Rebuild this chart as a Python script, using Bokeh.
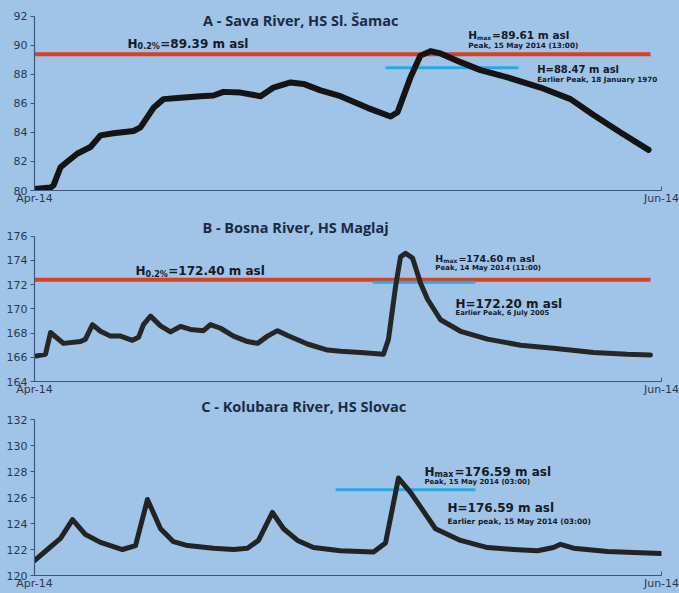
from bokeh.plotting import figure
from bokeh.layouts import column
from bokeh.models import Range1d, FixedTicker, Label
from bokeh.embed import file_html
from bokeh.resources import INLINE

# ---------------- data (x = days since 1 April 2014) ----------------
x_tick_values = [0, 61]
x_tick_labels = ["Apr-14", "Jun-14"]

a_days = [0.0, 1.56, 1.85, 2.53, 3.21, 4.18, 5.45, 6.42, 7.69, 9.63,
          10.31, 11.58, 12.55, 14.20, 16.15, 17.41, 18.39, 20.04, 21.99, 23.25,
          24.91, 26.17, 27.83, 29.77, 32.40, 34.64, 35.32, 36.58, 37.55, 38.53,
          39.50, 41.45, 43.39, 46.02, 49.23, 52.15, 54.39, 57.02, 59.74]
a_levels = [80.1, 80.2, 80.35, 81.6, 82.0, 82.55, 83.0, 83.8, 83.95, 84.1,
            84.35, 85.7, 86.3, 86.4, 86.5, 86.55, 86.8, 86.75, 86.5, 87.1,
            87.45, 87.35, 86.9, 86.5, 85.7, 85.1, 85.4, 87.8, 89.3, 89.61,
            89.45, 88.85, 88.3, 87.8, 87.1, 86.3, 85.2, 84.0, 82.8]
a_yticks = [80, 82, 84, 86, 88, 90, 92]
a_h02 = 89.39
a_h02_span = [0, 59.93]
a_prev = 88.47
a_prev_span = [34.15, 47.09]

b_days = [0.10, 1.07, 1.56, 2.04, 2.82, 4.48, 4.96, 5.64, 6.42, 7.39,
          8.37, 9.53, 10.12, 10.60, 11.29, 12.26, 13.23, 14.20, 15.18, 16.44,
          17.12, 18.10, 19.36, 20.72, 21.70, 22.67, 23.64, 24.62, 26.56, 28.51,
          29.77, 31.72, 33.95, 34.44, 35.12, 35.61, 36.10, 36.78, 37.55, 38.24,
          39.50, 41.45, 44.07, 47.28, 50.49, 54.39, 57.69, 59.93]
b_levels = [166.1, 166.25, 168.05, 167.7, 167.15, 167.3, 167.5, 168.7, 168.15, 167.75,
            167.75, 167.4, 167.65, 168.7, 169.4, 168.6, 168.1, 168.55, 168.3, 168.2,
            168.7, 168.4, 167.75, 167.3, 167.15, 167.75, 168.2, 167.8, 167.1, 166.6,
            166.5, 166.4, 166.25, 167.5, 171.8, 174.3, 174.6, 174.2, 172.15, 170.8,
            169.1, 168.15, 167.5, 167.0, 166.75, 166.4, 166.25, 166.2]
b_yticks = [164, 166, 168, 170, 172, 174, 176]
b_h02 = 172.40
b_h02_span = [0, 59.93]
b_prev = 172.20
b_prev_span = [32.88, 42.90]

c_days = [0.0, 1.26, 2.53, 3.70, 4.96, 6.42, 8.56, 9.83, 10.99, 12.26,
          13.52, 14.89, 17.41, 19.36, 20.72, 21.79, 23.15, 24.23, 25.59, 27.14,
          29.77, 32.98, 34.15, 35.41, 36.58, 39.01, 41.45, 44.07, 46.60, 48.94,
          50.49, 51.18, 52.44, 55.75, 60.90]
c_levels = [121.15, 122.0, 122.85, 124.3, 123.15, 122.55, 122.0, 122.3, 125.85, 123.6,
            122.6, 122.3, 122.1, 122.0, 122.1, 122.7, 124.85, 123.6, 122.7, 122.15,
            121.9, 121.8, 122.5, 127.5, 126.4, 123.6, 122.7, 122.15, 122.0, 121.9,
            122.15, 122.4, 122.1, 121.85, 121.7]
c_yticks = [120, 122, 124, 126, 128, 130, 132]
c_prev = 126.6
c_prev_span = [29.30, 42.90]

titles = ["A - Sava River, HS Sl. Šamac",
          "B - Bosna River, HS Maglaj",
          "C - Kolubara River, HS Slovac"]

a_notes = [("0.2%", "=89.39 m asl"), ("max", "=89.61 m asl"),
           "Peak, 15 May 2014 (13:00)", "H=88.47 m asl", "Earlier Peak, 18 January 1970"]
b_notes = [("0.2%", "=172.40 m asl"), ("max", "=174.60 m asl"),
           "Peak, 14 May 2014 (11:00)", "H=172.20 m asl", "Earlier Peak, 6 July 2005"]
c_notes = [("max", "=176.59 m asl"),
           "Peak, 15 May 2014 (03:00)", "H=176.59 m asl", "Earlier peak, 15 May 2014 (03:00)"]

# ---------------- styling ----------------
W = 679
BG = "#9fc4e7"
AXIS = "#3d5878"
TICKTXT = "#2b3950"
TITLE_C = "#1c2a45"
TXT = "#161b27"
RED = "#d8401f"
BLUE = "#2aa9e0"
FONT = "DejaVu Sans"
TITLE_FONT = "Open Sans"
LIFT = 4  # px

BOLD_W = {'H': .837, '0': .696, '.': .38, '2': .696, '%': 1.002,
          'm': 1.042, 'a': .675, 'x': .712}


def tw(s, size):
    return sum(BOLD_W[c] for c in s) * size


def make_fig(h, bottom, yr, bounds, yticks):
    p = figure(width=W, height=h, x_range=Range1d(0, 61), y_range=Range1d(*yr),
               output_backend="svg", toolbar_location=None,
               min_border_left=34, min_border_right=18,
               min_border_top=0, min_border_bottom=bottom)
    p.background_fill_color = BG
    p.border_fill_color = BG
    p.outline_line_color = None
    p.grid.visible = False
    for ax in (p.xaxis[0], p.yaxis[0]):
        ax.axis_line_color = AXIS
        ax.axis_line_width = 1.2
        ax.major_tick_line_color = AXIS
        ax.minor_tick_line_color = None
        ax.major_label_text_font = FONT
        ax.major_label_text_font_size = "11px"
        ax.major_label_text_color = TICKTXT
    p.xaxis.ticker = FixedTicker(ticks=x_tick_values)
    p.xaxis.major_label_overrides = dict(zip(x_tick_values, x_tick_labels))
    p.xaxis.major_tick_in = 4
    p.xaxis.major_tick_out = 0
    p.xaxis.major_label_standoff = 1
    p.yaxis.ticker = FixedTicker(ticks=yticks)
    p.yaxis.bounds = bounds
    p.yaxis.major_tick_in = 0
    p.yaxis.major_tick_out = 4
    p.yaxis.major_label_standoff = 3
    return p


def label(p, x, y, text, size, xoff=0, yoff=0, font=FONT, color=TXT, align="left"):
    p.add_layout(Label(x=x, y=y, x_offset=xoff, y_offset=yoff + LIFT, text=text,
                       text_font=font, text_font_style="bold",
                       text_font_size=f"{size}px", text_color=color,
                       text_align=align, text_baseline="alphabetic"))


def h_label(p, x, y, sub, rest, size, subsize):
    label(p, x, y, "H", size)
    label(p, x, y, sub, subsize, xoff=tw("H", size), yoff=-0.28 * size)
    label(p, x, y, rest, size, xoff=tw("H", size) + tw(sub, subsize) + 0.5)


def hline(p, level, span, color, width):
    p.line(span, [level, level], line_color=color, line_width=width)


def curve(p, xs, ys, color, width):
    p.line(xs, ys, line_color=color, line_width=width,
           line_join="round", line_cap="round")


# ---------------- panel A ----------------
pa = make_fig(207, 17, (80, 93.10), (80, 92), a_yticks)
hline(pa, a_h02, a_h02_span, RED, 4)
hline(pa, a_prev, a_prev_span, BLUE, 3)
curve(pa, a_days, a_levels, "#141414", 6)
label(pa, 25.9, 91.45, titles[0], 14.5, font=TITLE_FONT, color=TITLE_C, align="center")
h_label(pa, 9.05, 89.85, a_notes[0][0], a_notes[0][1], 12, 8)
h_label(pa, 42.2, 90.48, a_notes[1][0], a_notes[1][1], 10.5, 6)
label(pa, 42.2, 89.72, a_notes[2], 7.3)
label(pa, 48.9, 88.07, a_notes[3], 10)
label(pa, 48.9, 87.38, a_notes[4], 7.2)

# ---------------- panel B ----------------
pb = make_fig(191, 16, (164, 178.38), (164, 176), b_yticks)
hline(pb, b_h02, b_h02_span, RED, 4)
hline(pb, b_prev, b_prev_span, BLUE, 3)
curve(pb, b_days, b_levels, "#262626", 5)
label(pb, 25.4, 176.41, titles[1], 14.5, font=TITLE_FONT, color=TITLE_C, align="center")
h_label(pb, 9.83, 172.81, b_notes[0][0], b_notes[0][1], 12, 8)
h_label(pb, 39.0, 173.87, b_notes[1][0], b_notes[1][1], 9.5, 6)
label(pb, 39.0, 173.05, b_notes[2], 7)
label(pb, 40.96, 170.1, b_notes[3], 12)
label(pb, 40.96, 169.29, b_notes[4], 6.8)

# ---------------- panel C ----------------
pc = make_fig(195, 18, (120, 133.62), (120, 132), c_yticks)
hline(pc, c_prev, c_prev_span, BLUE, 3)
curve(pc, c_days, c_levels, "#232323", 5)
label(pc, 26.2, 132.69, titles[2], 14.5, font=TITLE_FONT, color=TITLE_C, align="center")
h_label(pc, 37.94, 127.69, c_notes[0][0], c_notes[0][1], 12, 8)
label(pc, 37.94, 126.85, c_notes[1], 7)
label(pc, 40.18, 124.85, c_notes[2], 12)
label(pc, 40.18, 123.85, c_notes[3], 7.5)

layout = column(pa, pb, pc, spacing=0, styles={"background-color": BG})
open("out.html", "w").write(file_html(layout, INLINE))
